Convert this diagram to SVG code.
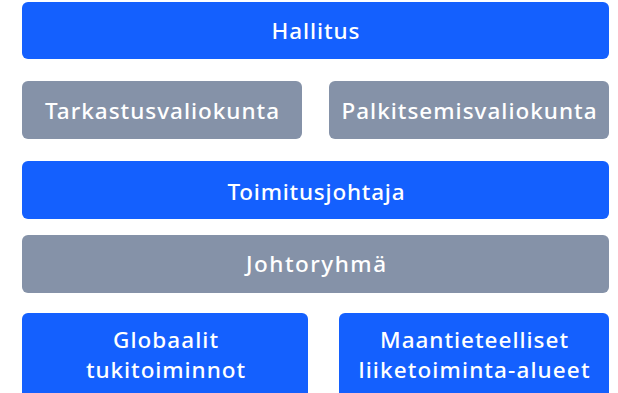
<svg xmlns="http://www.w3.org/2000/svg" width="618" height="393" viewBox="0 0 618 393">
<style>
.blue{fill:#1460FE}
.gray{fill:#8592A8}
text{font-family:"Noto Sans","Liberation Sans",sans-serif;font-size:22.5px;font-weight:500;fill:#ffffff;text-anchor:middle}
</style>
<rect width="618" height="393" fill="#ffffff"/>
<g id="hallitus"><rect class="blue" x="22" y="2" width="587" height="57" rx="6"/><text x="315.5" y="39" textLength="88">Hallitus</text></g>
<g id="tarkastusvaliokunta"><rect class="gray" x="22" y="81" width="280" height="58" rx="6"/><text x="162" y="119" textLength="234">Tarkastusvaliokunta</text></g>
<g id="palkitsemisvaliokunta"><rect class="gray" x="329" y="81" width="280" height="58" rx="6"/><text x="469" y="119" textLength="255">Palkitsemisvaliokunta</text></g>
<g id="toimitusjohtaja"><rect class="blue" x="22" y="161" width="587" height="58" rx="6"/><text x="316" y="200" textLength="177">Toimitusjohtaja</text></g>
<g id="johtoryhma"><rect class="gray" x="22" y="235" width="587" height="58" rx="6"/><text x="316" y="272" textLength="140">Johtoryhmä</text></g>
<g id="globaalit"><rect class="blue" x="22" y="313" width="286" height="90" rx="6"/><text x="165.5" y="348" textLength="105">Globaalit</text><text x="165.5" y="378" textLength="159">tukitoiminnot</text></g>
<g id="maantieteelliset"><rect class="blue" x="339" y="313" width="270" height="90" rx="6"/><text x="474" y="348" textLength="188">Maantieteelliset</text><text x="474" y="378" textLength="231">liiketoiminta-alueet</text></g>
<g id="connectors"></g>
</svg>
